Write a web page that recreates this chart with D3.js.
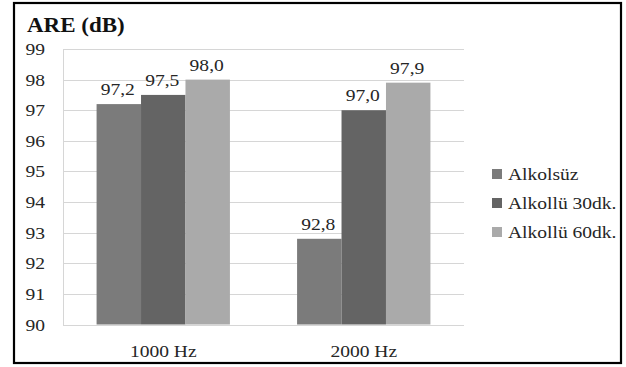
<!DOCTYPE html>
<html><head><meta charset="utf-8">
<script src="https://cdn.jsdelivr.net/npm/d3@7"></script>
<style>html,body{margin:0;padding:0;background:#fff;}svg{display:block;}
.t{font-family:"Liberation Serif","Times New Roman",Times,"Tinos","DejaVu Serif",serif;}</style>
</head><body>
<svg id="c" width="626" height="367"></svg>
<script>
const categories = ["1000 Hz", "2000 Hz"];
const seriesNames = ["Alkolsüz", "Alkollü 30dk.", "Alkollü 60dk."];
const alkolsuz = [97.2, 92.8];
const alkollu30 = [97.5, 97.0];
const alkollu60 = [98.0, 97.9];
const yTicks = [90, 91, 92, 93, 94, 95, 96, 97, 98, 99];
const colors = ["#7b7b7b", "#646464", "#aaaaaa"];
const title = "ARE (dB)";

const seriesValues = [alkolsuz, alkollu30, alkollu60];
const svg = d3.select("#c");
const SX = 1.15;

function txt(x, y, s, size, anchor, weight, fill) {
  const g = svg.append("g").attr("transform", `translate(${x},${y})`);
  g.append("text").attr("class", "t").attr("transform", `scale(${SX},1)`)
    .attr("text-anchor", anchor)
    .style("font-size", size + "px").style("font-weight", weight || "normal")
    .attr("fill", fill || "#262626").text(s);
}

svg.append("rect").attr("x", 0).attr("y", 0).attr("width", 626).attr("height", 367).attr("fill", "#fff");
svg.append("rect").attr("x", 14).attr("y", 3).attr("width", 607).attr("height", 360)
  .attr("fill", "none").attr("stroke", "#000").attr("stroke-width", 2.2);

const pLeft = 63, pRight = 464, pTop = 49, pBottom = 324.5;
const y = d3.scaleLinear().domain([90, 99]).range([pBottom, pTop]);
const x0 = d3.scaleBand().domain(categories).range([pLeft, pRight]).paddingInner(0.335).paddingOuter(0.1675);
const x1 = d3.scaleBand().domain(seriesNames).range([0, x0.bandwidth()]);

// gridlines
svg.append("g").selectAll("line").data(yTicks).join("line")
  .attr("x1", pLeft).attr("x2", pRight)
  .attr("y1", d => Math.round(y(d)) + 0.5).attr("y2", d => Math.round(y(d)) + 0.5)
  .attr("stroke", "#d6d6d6").attr("stroke-width", 1);
svg.append("line").attr("x1", pLeft + 0.5).attr("x2", pLeft + 0.5)
  .attr("y1", Math.round(y(99)) + 0.5).attr("y2", Math.round(y(90)) + 0.5)
  .attr("stroke", "#d6d6d6");

// y tick labels
yTicks.forEach(t => txt(45, y(t) + 6, String(t), 17, "end"));

// bars
categories.forEach((c, ci) => {
  seriesNames.forEach((s, si) => {
    const v = seriesValues[si][ci];
    const bx = x0(c) + x1(s);
    svg.append("rect").attr("x", bx).attr("y", y(v))
      .attr("width", x1.bandwidth()).attr("height", y(90) - y(v))
      .attr("fill", colors[si]);
    txt(bx + x1.bandwidth() / 2 - 1, y(v) - 9, d3.format(".1f")(v).replace(".", ","), 17, "middle");
  });
  txt(x0(c) + x0.bandwidth() / 2, 357, c, 17, "middle");
});

// title
txt(27, 32, title, 20, "start", "bold", "#111");

// legend
const legY = [174, 203, 232];
seriesNames.forEach((s, i) => {
  svg.append("rect").attr("x", 492).attr("y", legY[i] - 5).attr("width", 10).attr("height", 10).attr("fill", colors[i]);
  txt(508, legY[i] + 6, s, 17, "start");
});
</script>
</body></html>
